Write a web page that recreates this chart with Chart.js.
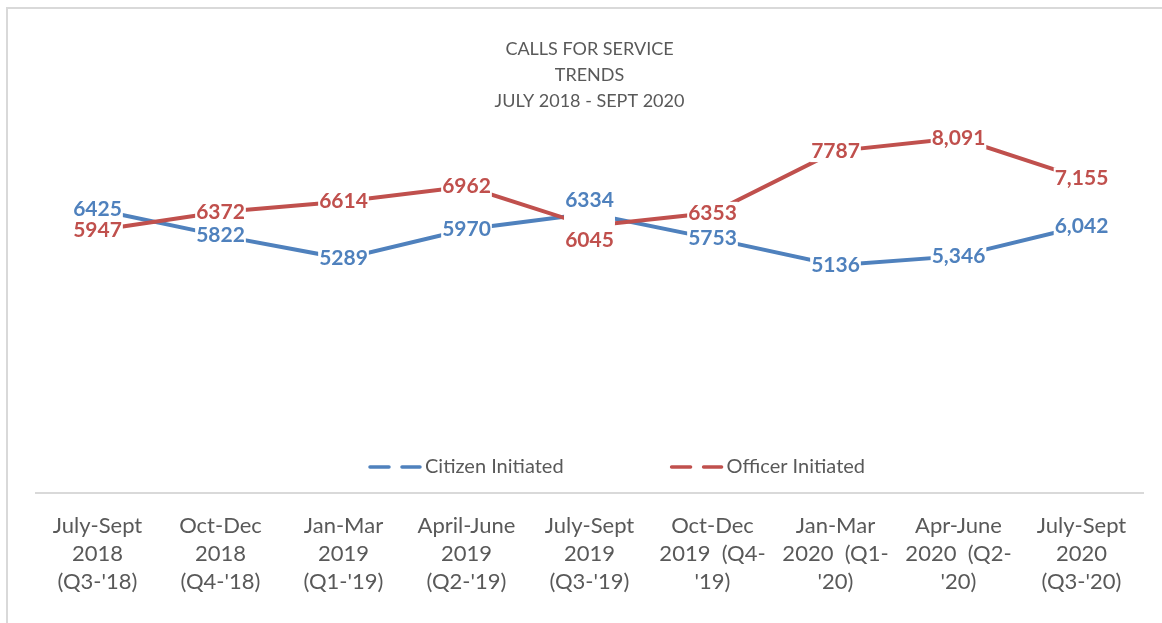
<!DOCTYPE html>
<html>
<head>
<meta charset="utf-8">
<title>Calls for Service Trends</title>
<script src="https://cdn.jsdelivr.net/npm/chart.js@4.4.1/dist/chart.umd.min.js"></script>
<style>
  html, body { margin: 0; padding: 0; background: #fff; overflow: hidden; }
  #wrap { position: relative; width: 1162px; height: 623px; }
  #frame { position: absolute; left: 6px; top: 7px; width: 1200px; height: 700px; border: 2px solid #d9d9d9; pointer-events: none; }
  canvas { position: absolute; left: 0; top: 0; }
</style>
</head>
<body>
<div id="wrap">
  <canvas id="cfsChart" width="1162" height="623"></canvas>
  <div id="frame"></div>
</div>
<script>
// ---- data ----
const quarters = [
  ['July-Sept', '2018', "(Q3-'18)"],
  ['Oct-Dec', '2018', "(Q4-'18)"],
  ['Jan-Mar', '2019', "(Q1-'19)"],
  ['April-June', '2019', "(Q2-'19)"],
  ['July-Sept', '2019', "(Q3-'19)"],
  ['Oct-Dec', '2019  (Q4-', "'19)"],
  ['Jan-Mar', '2020  (Q1-', "'20)"],
  ['Apr-June', '2020  (Q2-', "'20)"],
  ['July-Sept', '2020', "(Q3-'20)"]
];
const citizenCalls = [6425, 5822, 5289, 5970, 6334, 5753, 5136, 5346, 6042];
const officerCalls = [5947, 6372, 6614, 6962, 6045, 6353, 7787, 8091, 7155];
const seriesNames = ['Citizen Initiated', 'Officer Initiated'];
const titleLines = ['CALLS FOR SERVICE', 'TRENDS', 'JULY 2018 - SEPT 2020'];
const commaFrom = 7; // the last quarters are written with a thousands separator

const BLUE = '#4f81bd';
const RED = '#c0504d';
const GREY = '#595959';
const FONT = 'Lato, "Open Sans", sans-serif';

function formatCalls(v, i) {
  return i >= commaFrom ? v.toLocaleString('en-US') : String(v);
}

// value labels sit on the points with a white box behind them (Excel style)
const valueLabels = {
  id: 'valueLabels',
  afterDatasetsDraw(chart) {
    const ctx = chart.ctx;
    const h = 22;
    const items = [];
    ctx.save();
    ctx.font = 'bold 21px ' + FONT;
    chart.data.datasets.forEach((ds, di) => {
      const meta = chart.getDatasetMeta(di);
      meta.data.forEach((pt, i) => {
        const text = formatCalls(ds.data[i], i);
        const w = ctx.measureText(text).width + 2;
        const dy = (ds.labelShift && ds.labelShift[i]) || 0;
        items.push({ text, x: pt.x, y: pt.y + dy, color: ds.borderColor });
        const top = Math.min(pt.y, pt.y + dy) - h / 2;
        ctx.fillStyle = '#fff';
        ctx.fillRect(pt.x - w / 2, top, w, Math.abs(dy) + h);
      });
    });
    ctx.textAlign = 'center';
    ctx.textBaseline = 'middle';
    items.forEach(it => {
      ctx.fillStyle = it.color;
      ctx.fillText(it.text, it.x, it.y);
    });
    ctx.restore();
  }
};

// legend drawn inside the plot, just above the category axis
const dashLegend = {
  id: 'dashLegend',
  afterDraw(chart) {
    const ctx = chart.ctx;
    const area = chart.chartArea;
    const sampleW = 54, gap = 3, spacing = 106;
    ctx.save();
    ctx.font = '20px ' + FONT;
    const widths = chart.data.datasets.map(ds => sampleW + gap + ctx.measureText(ds.label).width);
    const total = widths.reduce((a, b) => a + b, 0) + spacing * (widths.length - 1);
    let x = (area.left + area.right) / 2 + 27 - total / 2;
    const y = area.bottom - 26;
    chart.data.datasets.forEach((ds, i) => {
      ctx.strokeStyle = ds.borderColor;
      ctx.lineWidth = 3.5;
      ctx.lineCap = 'round';
      ctx.setLineDash([19, 13]);
      ctx.beginPath();
      ctx.moveTo(x + 2, y);
      ctx.lineTo(x + sampleW - 2, y);
      ctx.stroke();
      ctx.setLineDash([]);
      ctx.fillStyle = GREY;
      ctx.textAlign = 'left';
      ctx.textBaseline = 'middle';
      ctx.fillText(ds.label, x + sampleW + gap, y);
      x += widths[i] + spacing;
    });
    ctx.restore();
  }
};

const ctx = document.getElementById('cfsChart').getContext('2d');
new Chart(ctx, {
  type: 'line',
  data: {
    labels: quarters,
    datasets: [
      {
        label: seriesNames[0],
        data: citizenCalls,
        borderColor: BLUE,
        backgroundColor: BLUE,
        borderWidth: 4,
        pointRadius: 0,
        tension: 0,
        labelShift: { 4: -13 }
      },
      {
        label: seriesNames[1],
        data: officerCalls,
        borderColor: RED,
        backgroundColor: RED,
        borderWidth: 4,
        pointRadius: 0,
        tension: 0,
        order: -1,
        labelShift: { 4: 14 }
      }
    ]
  },
  options: {
    responsive: false,
    animation: false,
    layout: { padding: { top: 36, left: 36, right: 19, bottom: 0 } },
    plugins: {
      legend: { display: false },
      tooltip: { enabled: false },
      title: {
        display: true,
        text: titleLines,
        fullSize: false,
        color: GREY,
        font: { family: FONT, size: 18, weight: 'normal', lineHeight: 26 / 18 },
        padding: { top: 0, bottom: 0 }
      }
    },
    scales: {
      x: {
        type: 'category',
        offset: true,
        grid: { display: false, drawTicks: false },
        border: { display: true, color: '#d9d9d9', width: 2 },
        ticks: {
          color: GREY,
          autoSkip: false,
          maxRotation: 0,
          padding: 19,
          font: { family: FONT, size: 22, lineHeight: 28 / 22 }
        },
        afterFit: scale => { scale.height = 130; }
      },
      y: {
        display: false,
        min: -160,
        max: 8650
      }
    }
  },
  plugins: [valueLabels, dashLegend]
});
</script>
</body>
</html>
